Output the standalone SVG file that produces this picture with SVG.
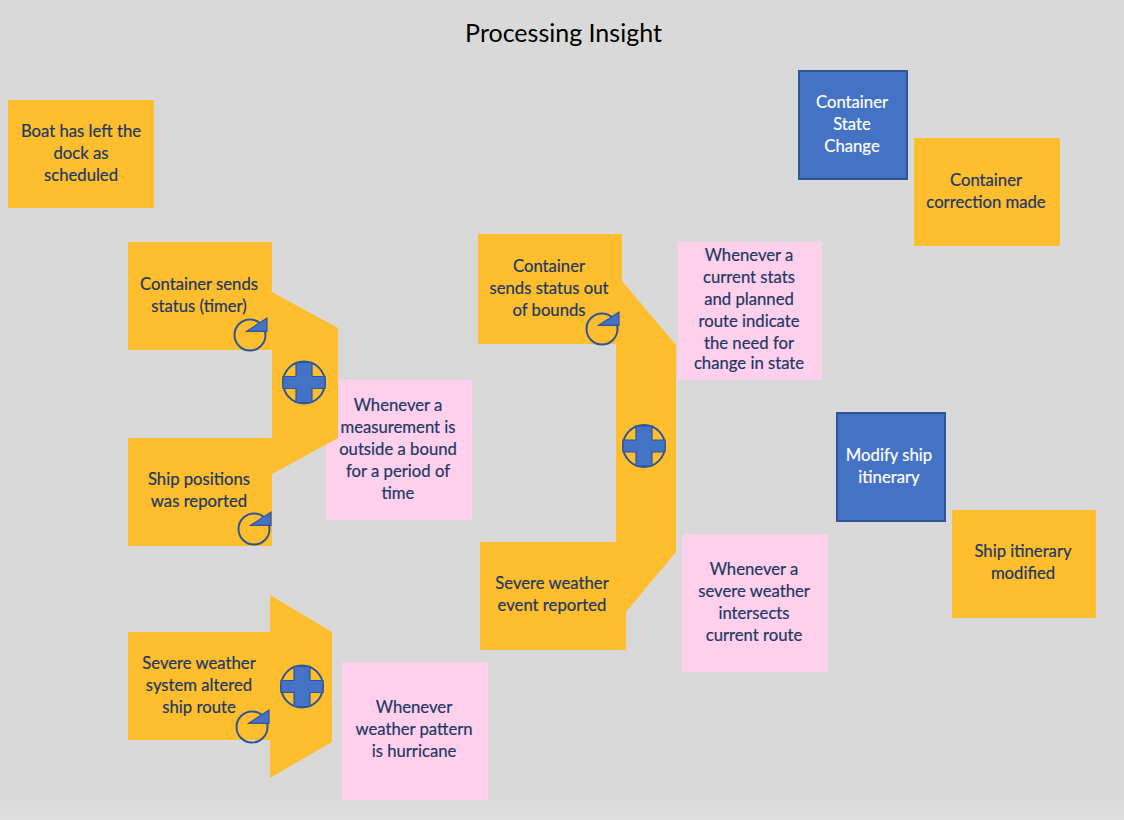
<svg xmlns="http://www.w3.org/2000/svg" width="1124" height="820" viewBox="0 0 1124 820">
<style>
text{font-family:"Lato","Noto Sans",sans-serif;font-size:16.7px;text-anchor:middle;fill:#203864;stroke:#203864;stroke-width:.2}
.title{font-size:25px;fill:#000;stroke:none}
.o{fill:#ffbe2d}
.p{fill:#ffd0ec}
.b{fill:#4472c4;stroke:#2f5597;stroke-width:2}
text.w{fill:#fff;stroke:#fff}
.c{fill:none;stroke:#2f5597;stroke-width:2}
.f{fill:#4472c4;stroke:#2f5597;stroke-width:1.2}
</style>
<defs>
<linearGradient id="bg" x1="0" y1="0" x2="0" y2="1"><stop offset="0" stop-color="#d9d9d9"/><stop offset=".97" stop-color="#d9d9d9"/><stop offset="1" stop-color="#dedede"/></linearGradient>
<g id="plus"><circle class="c" r="21"/><path class="f" d="M-8-20H8V-6H21V6H8V20H-8V6H-21V-6H-8Z"/></g>
<g id="clock"><circle class="c" r="15.5"/><path class="f" d="M-3.3-3.7L17-17V-3.7Z"/></g>
</defs>
<rect width="1124" height="820" fill="url(#bg)"/>
<text class="title" x="563.500" y="41.500">Processing Insight</text>
<g id="boat"><rect class="o" x="8" y="100" width="146" height="108"/><text x="81" y="137">Boat has left the</text><text x="81" y="159">dock as</text><text x="81" y="181">scheduled</text></g>
<g id="measurement"><rect class="p" x="326" y="380" width="146" height="140"/><text x="398" y="411">Whenever a</text><text x="398" y="433">measurement is</text><text x="398" y="455">outside a bound</text><text x="398" y="477">for a period of</text><text x="398" y="499">time</text></g>
<g id="gateway1"><path class="o" d="M272 292L338 328V438L272 474Z"/><use href="#plus" x="304" y="382.500"/></g>
<g id="gateway2"><path class="o" d="M622 281L676 345V552L626 612V542H616V344Z"/><use href="#plus" x="644" y="446"/></g>
<g id="gateway3"><path class="o" d="M270 595L332 632V742L270 778Z"/></g>
<g id="status-timer"><rect class="o" x="128" y="242" width="144" height="108"/><text x="199" y="290">Container sends</text><text x="199" y="312">status (timer)</text><use href="#clock" x="250" y="335"/></g>
<g id="ship-positions"><rect class="o" x="128" y="438" width="144" height="108"/><text x="199" y="485">Ship positions</text><text x="199" y="507">was reported</text><use href="#clock" x="254" y="529"/></g>
<g id="status-bounds"><rect class="o" x="478" y="234" width="144" height="110"/><text x="549" y="272">Container</text><text x="549" y="294">sends status out</text><text x="549" y="316">of bounds</text><use href="#clock" x="602" y="329"/></g>
<g id="weather-event"><rect class="o" x="480" y="542" width="146" height="108"/><text x="552" y="589">Severe weather</text><text x="552" y="611">event reported</text></g>
<g id="weather-system"><rect class="o" x="128" y="632" width="142" height="108"/><text x="199" y="669">Severe weather</text><text x="199" y="691">system altered</text><text x="199" y="713">ship route</text><use href="#clock" x="252" y="727"/><use href="#plus" x="302" y="686.500"/></g>
<g id="hurricane"><rect class="p" x="342" y="662" width="146" height="138"/><text x="414" y="713">Whenever</text><text x="414" y="735">weather pattern</text><text x="414" y="757">is hurricane</text></g>
<g id="stats"><rect class="p" x="678" y="242" width="144" height="138"/><text x="749" y="261">Whenever a</text><text x="749" y="283">current stats</text><text x="749" y="305">and planned</text><text x="749" y="327">route indicate</text><text x="749" y="349">the need for</text><text x="749" y="369">change in state</text></g>
<g id="intersects"><rect class="p" x="682" y="534" width="146" height="138"/><text x="754" y="575">Whenever a</text><text x="754" y="597">severe weather</text><text x="754" y="619">intersects</text><text x="754" y="641">current route</text></g>
<g id="state-change"><rect class="b" x="799" y="71" width="108" height="108"/><text class="w" x="852" y="108">Container</text><text class="w" x="852" y="130">State</text><text class="w" x="852" y="152">Change</text></g>
<g id="correction"><rect class="o" x="914" y="138" width="146" height="108"/><text x="986" y="186">Container</text><text x="986" y="208">correction made</text></g>
<g id="modify"><rect class="b" x="837" y="413" width="108" height="108"/><text class="w" x="889" y="461">Modify ship</text><text class="w" x="889" y="483">itinerary</text></g>
<g id="itinerary"><rect class="o" x="952" y="510" width="144" height="108"/><text x="1023" y="557">Ship itinerary</text><text x="1023" y="579">modified</text></g>
<g id="connectors"/>
</svg>
